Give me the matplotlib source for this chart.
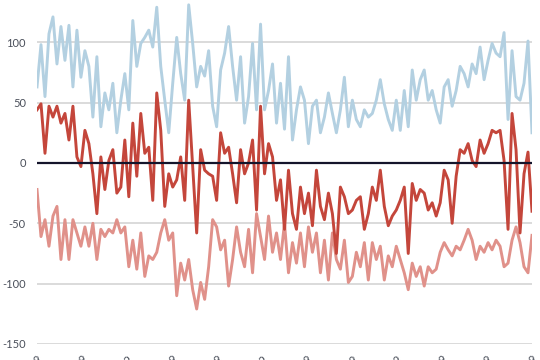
import matplotlib
matplotlib.use("Agg")
import matplotlib.pyplot as plt
import numpy as np

# Series values
blue_vals = [63, 98, 55, 107, 121, 82, 113, 85, 114, 63, 110, 71, 93, 80, 38, 88, 30, 58, 44, 66,
             25, 52, 74, 44, 118, 80, 99, 104, 110, 96, 129, 80, 52, 25, 66, 104, 74, 52, 131, 99,
             63, 80, 72,
             93, 47, 30, 77, 91, 113, 80, 52, 88, 33, 55, 99, 44, 115, 44, 60, 82, 33, 66, 28, 88,
             19, 44, 63, 52, 16, 47, 52, 25, 38, 58, 41, 25, 44, 71, 30, 52, 36, 30, 44, 38,
             41, 52, 69, 49, 36, 27, 52, 27, 60, 30, 77, 52, 69, 77, 52, 60, 44, 33, 63, 69,
             47, 60, 80, 74, 63, 82, 74, 96, 69, 85, 99, 91, 88, 108, 36, 93, 55, 52, 66, 101, 25]

net_vals = [44, 49, 8, 47, 38, 47, 33, 41, 19, 47, 5, -3, 27, 16, -9, -42, 5, -22, 2, 11,
            -25, -20, 19, -28, 33, -11, 41, 8, 13, -31, 58, 27, -36, -9, -20, -14, 5, -31, 52, -3,
            -58, 11, -6,
            -9, -11, -31, 25, 8, 13, -9, -33, 11, -9, 0, 19, -39, 47, -9, 16, 5, -31, -14, -55, -6,
            -42, -55, -20, -42, -25, -52, -6, -36, -47, -25, -42, -75, -20, -28, -42, -39, -31, -28, -55, -42,
            -20, -31, -6, -36, -52, -44, -39, -31, -20, -75, -17, -31, -22, -25, -39, -33, -44, -33, -6, -14,
            -50, -11, 11, 8, 16, 2, -3, 19, 8, 16, 27, 25, 27, 2, -55, 41, 11, -58, -9, 9, -40]

low_vals = [-22, -61, -47, -69, -44, -36, -80, -47, -80, -47, -58, -69, -53, -69, -50, -80, -55, -61, -55, -58,
            -47, -58, -53, -86, -64, -88, -58, -94, -77, -80, -74, -58, -47, -64, -58, -110, -83, -97, -80, -105,
            -121, -99, -113,
            -86, -47, -53, -72, -64, -102, -80, -53, -74, -86, -55, -91, -42, -61, -80, -44, -74, -58, -80, -50, -91,
            -66, -83, -58, -86, -53, -74, -58, -91, -64, -97, -58, -80, -88, -64, -99, -94, -74, -86, -66, -97,
            -66, -80, -69, -97, -77, -86, -69, -80, -91, -105, -83, -94, -86, -102, -86, -91, -88, -74, -66, -72,
            -77, -69, -72, -64, -55, -64, -80, -69, -74, -66, -72, -64, -69, -86, -83, -64, -53, -66, -86, -91, -60]

tick_labels = ["Jan 2019", "Feb 2019", "Mar 2019", "Apr 2019", "May 2019", "Jun 2019",
               "Jul 2019", "Aug 2019", "Sep 2019", "Oct 2019", "Nov 2019", "Dec 2019"]
y_ticks = [-150, -100, -50, 0, 50, 100]

x = np.arange(len(blue_vals))

fig = plt.figure(figsize=(5.4, 3.6), dpi=100)
ax = fig.add_axes([37/540, 16/360, 495/540, 344/360])

ax.plot(x, blue_vals, color="#b3d0e1", lw=2.1, solid_joinstyle="round", zorder=3)
ax.plot(x, low_vals, color="#e0918a", lw=2.1, solid_joinstyle="round", zorder=3)
ax.plot(x, net_vals, color="#c4463b", lw=2.1, solid_joinstyle="round", zorder=4)
ax.axhline(0, color="#14142b", lw=1.6, zorder=5)

ax.set_xlim(0, len(x) - 1)
ax.set_ylim(-150, 135)
ax.set_yticks(y_ticks)
ax.set_yticklabels([str(v) for v in y_ticks], fontsize=8, color="#4a4f5a", family="Lato")
ax.grid(axis="y", color="#d4d4d4", lw=1.2, zorder=0)
ax.tick_params(axis="y", length=0, pad=8)

ax.set_xticks(np.linspace(0, len(x) - 1, 12))
ax.set_xticklabels(tick_labels, rotation=45, ha="right", va="top", rotation_mode="anchor",
                   fontsize=8, color="#4a4f5a", family="Lato")
ax.tick_params(axis="x", length=0, pad=7)

for s in ax.spines.values():
    s.set_visible(False)

fig.savefig("out.png", dpi=100)
